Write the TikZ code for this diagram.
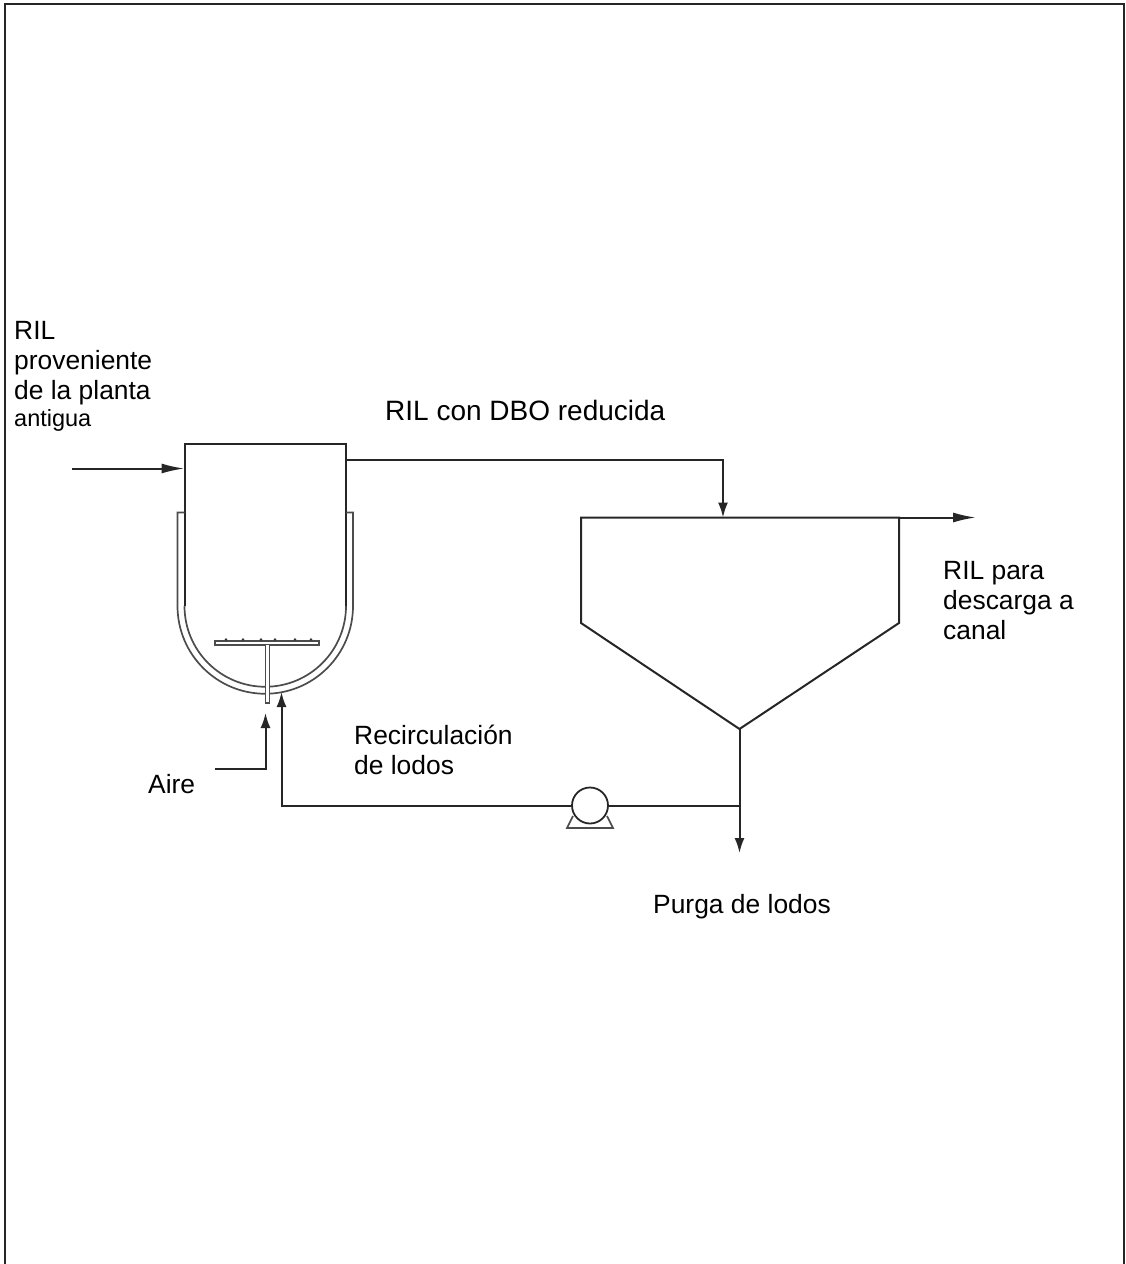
\documentclass[tikz,border=0pt]{standalone}
\usepackage{fontspec}
\setmainfont{Liberation Sans}
\usetikzlibrary{arrows.meta,positioning}

\begin{document}
\begin{tikzpicture}[
    x=1pt, y=-1pt,
    pipe/.style={line width=2pt, draw=black!85},
    arrow/.style={pipe, -{Latex[length=15pt, width=10pt]}},
    long arrow/.style={pipe, -{Latex[length=23pt, width=10pt]}},
    thin wall/.style={line width=1.7pt, draw=black!70},
    label/.style={inner sep=0pt, anchor=base west, align=left, font=\fontsize{26.4}{30}\selectfont}
]
\useasboundingbox (0,0) rectangle (1126,1264);
\draw[line width=2pt, draw=black!85] (5,1264) -- (5,4) -- (1124,4) -- (1124,1264);

% reactor
\coordinate (tankTL) at (184.5,443.5);
\coordinate (tankTR) at (346,443.5);
\coordinate (spout) at (346,460);
\coordinate (sin) at (184.5,468.5);
\draw[pipe] (184.5,606) -- (tankTL) -- (tankTR) -- (346,606);
\draw[thin wall] (184.5,606) arc[start angle=180, end angle=0, radius=80.75];
\draw[thin wall] (184.5,512.5) -- (177.5,512.5) -- (177.5,606) arc[start angle=180, end angle=0, radius=87.75] -- (353,512.5) -- (346,512.5);

% sparger
\draw[thin wall, fill=white] (215,641) rectangle (319,645);
\draw[thin wall, fill=white] (265.5,645) -- (265.5,703) -- (269.5,703) -- (269.5,645);
\foreach \dotx in {226,243,261,275,295,311}
    \fill[black!80] (\dotx,639.5) circle (1.4);

% clarifier
\coordinate (clarTL) at (581,517.5);
\coordinate (clarTR) at (899,517.5);
\coordinate (clarIn) at (723,517.5);
\coordinate (apex) at (739.5,729);
\draw[pipe] (clarTL) -- (clarTR) -- (899,623) -- (apex) -- (581,623) -- cycle;

% pump
\node[circle, draw=black!85, line width=1.8pt, minimum size=36pt, inner sep=0pt] (pump) at (590,805.5) {};
\draw[thin wall] (573,816) -- (567,828) -- (613,828) -- (607,816);

% free ends
\coordinate (feed) at (72,468.5);
\coordinate (outEnd) at (976,517.5);
\coordinate (purge) at (739.5,853);
\coordinate (tee) at (739.5,805.5);
\coordinate (airStart) at (215,769);
\coordinate (airTip) at (265.5,713);
\coordinate (recTip) at (281.5,692);

\draw[long arrow] (feed) -- (sin);
\draw[arrow] (spout) -| (clarIn);
\draw[long arrow] (clarTR) -- (outEnd);
\draw[arrow] (apex) -- (purge);
\draw[pipe] (tee) -- (pump);
\draw[arrow] (pump) -| (recTip);
\draw[arrow] (airStart) -| (airTip);

\node[label] (ril) at (14,399) {RIL\\proveniente\\de la planta};
\node[label, font=\fontsize{23.5}{28}\selectfont] (antigua) at (14,426) {antigua};
\node[label, font=\fontsize{28}{30}\selectfont] (reducida) at (385,420) {RIL con DBO reducida};
\node[label] (canal) at (943,639) {RIL para\\descarga a\\canal};
\node[label] (recirc) at (354,774) {Recirculación\\de lodos};
\node[label] (aire) at (148,793) {Aire};
\node[label] (purga) at (653,913) {Purga de lodos};
\end{tikzpicture}
\end{document}
